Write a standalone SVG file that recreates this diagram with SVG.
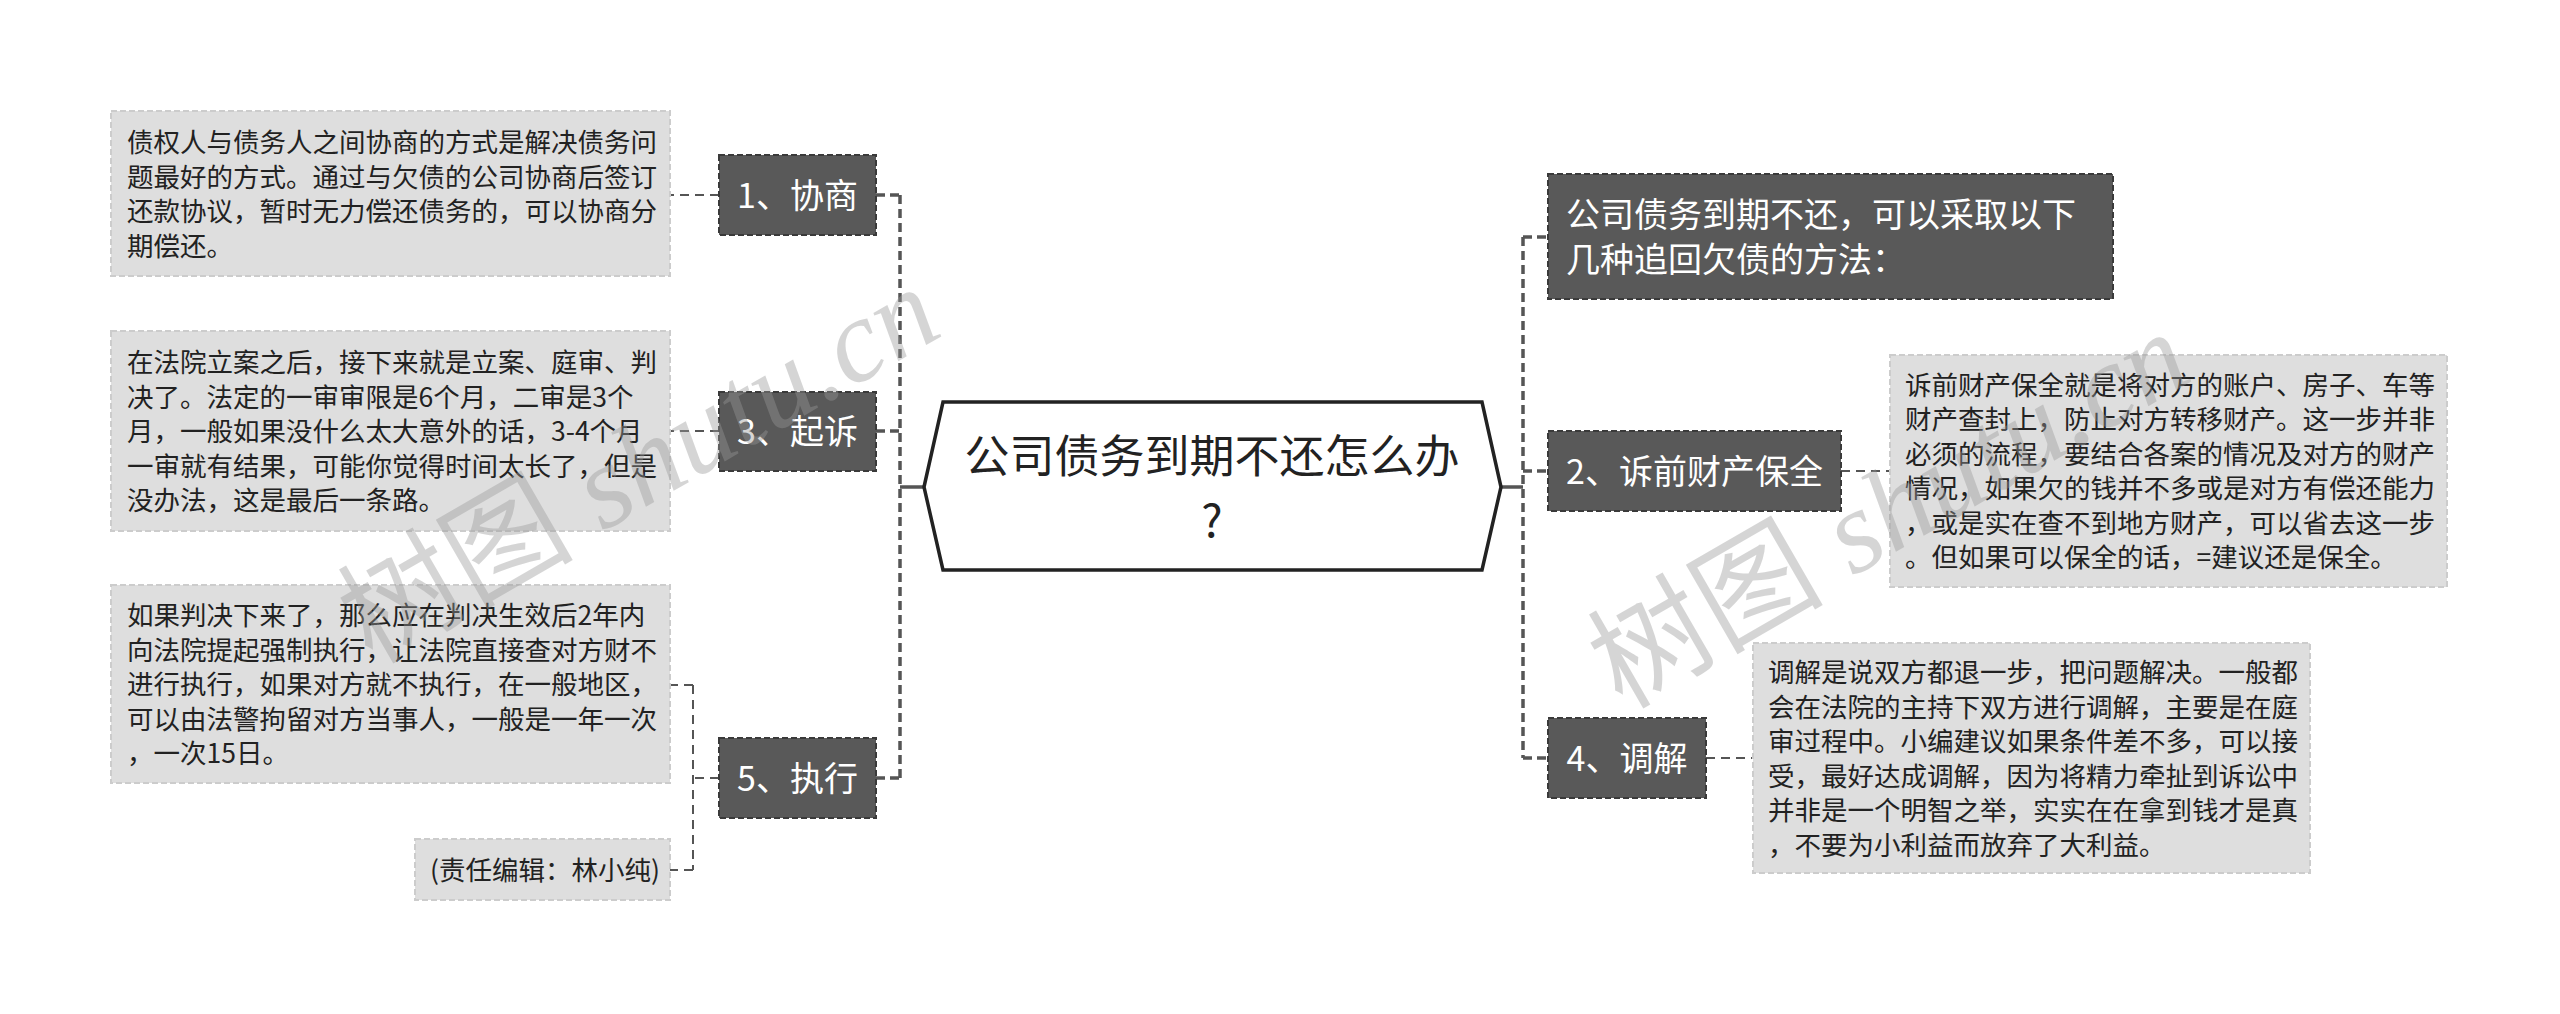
<svg xmlns="http://www.w3.org/2000/svg" width="2560" height="1014" viewBox="0 0 2560 1014">
<style>
.bg{fill:#ffffff}
.node rect{fill:#595959;stroke:#3a3a3a;stroke-width:2;stroke-dasharray:6 3}
.node text{fill:#ffffff;font-family:"Noto Sans CJK SC","Noto Sans",sans-serif;font-size:34px}
.desc rect{fill:#dedede;stroke:#cccccc;stroke-width:2;stroke-dasharray:6 3}
.desc text{fill:#222222;font-family:"Noto Sans CJK SC","Noto Sans",sans-serif;font-size:26.5px}
.root polygon{fill:#ffffff;stroke:#222222;stroke-width:3.5}
.root text{fill:#222222;font-family:"Noto Sans CJK SC","Noto Sans",sans-serif;font-size:45px}
.main{fill:none;stroke:#555555;stroke-width:3.5;stroke-dasharray:9 5}
.thin{fill:none;stroke:#555555;stroke-width:2;stroke-dasharray:9 6}
.solid{fill:none;stroke:#555555;stroke-width:3.5}
.wm{fill:#999999;opacity:0.4;font-size:118px}
</style>
<rect class="bg" x="0" y="0" width="2560" height="1014"/>

<g id="connectors">
  <path class="main" d="M900,195 V778"/>
  <path class="main" d="M876,195 H900 M876,431 H900 M876,778 H900"/>
  <path class="solid" d="M900,487 H924"/>
  <path class="thin" d="M719,195 H670"/>
  <path class="thin" d="M719,431 H670"/>
  <path class="thin" d="M719,778 H693 M693,685 V870 M693,685 H670 M693,870 H670"/>
  <path class="main" d="M1523,237 V758"/>
  <path class="main" d="M1523,237 H1548 M1523,471 H1548 M1523,758 H1548"/>
  <path class="solid" d="M1501,487 H1523"/>
  <path class="thin" d="M1841,471 H1890"/>
  <path class="thin" d="M1706,758 H1753"/>
</g>

<g id="root" class="root">
  <polygon points="924,487 943,402 1482,402 1501,487 1482,570 943,570"/>
  <text x="1212" y="473" text-anchor="middle">公司债务到期不还怎么办</text>
  <text x="1212" y="537" text-anchor="middle">?</text>
</g>

<g id="n1" class="node">
  <rect x="719" y="155" width="157" height="80"/>
  <text x="797.5" y="208" text-anchor="middle">1、协商</text>
</g>
<g id="n3" class="node">
  <rect x="719" y="392" width="157" height="79"/>
  <text x="797.5" y="444" text-anchor="middle">3、起诉</text>
</g>
<g id="n5" class="node">
  <rect x="719" y="738" width="157" height="80"/>
  <text x="797.5" y="791" text-anchor="middle">5、执行</text>
</g>
<g id="ntop" class="node">
  <rect x="1548" y="174" width="565" height="125"/>
  <text x="1566" y="227">公司债务到期不还，可以采取以下</text>
  <text x="1566" y="272">几种追回欠债的方法：</text>
</g>
<g id="n2" class="node">
  <rect x="1548" y="431" width="293" height="80"/>
  <text x="1694.5" y="484" text-anchor="middle">2、诉前财产保全</text>
</g>
<g id="n4" class="node">
  <rect x="1548" y="718" width="158" height="80"/>
  <text x="1627" y="771" text-anchor="middle">4、调解</text>
</g>

<g id="d1" class="desc">
  <rect x="111" y="111" width="559" height="165"/>
  <text x="127" y="152">债权人与债务人之间协商的方式是解决债务问</text>
  <text x="127" y="186.5">题最好的方式。通过与欠债的公司协商后签订</text>
  <text x="127" y="221">还款协议，暂时无力偿还债务的，可以协商分</text>
  <text x="127" y="255.5">期偿还。</text>
</g>
<g id="d3" class="desc">
  <rect x="111" y="331" width="559" height="200"/>
  <text x="127" y="372">在法院立案之后，接下来就是立案、庭审、判</text>
  <text x="127" y="406.5">决了。法定的一审审限是6个月，二审是3个</text>
  <text x="127" y="441">月，一般如果没什么太大意外的话，3-4个月</text>
  <text x="127" y="475.5">一审就有结果，可能你觉得时间太长了，但是</text>
  <text x="127" y="510">没办法，这是最后一条路。</text>
</g>
<g id="d5" class="desc">
  <rect x="111" y="585" width="559" height="198"/>
  <text x="127" y="625">如果判决下来了，那么应在判决生效后2年内</text>
  <text x="127" y="659.5">向法院提起强制执行，让法院直接查对方财不</text>
  <text x="127" y="694">进行执行，如果对方就不执行，在一般地区，</text>
  <text x="127" y="728.5">可以由法警拘留对方当事人，一般是一年一次</text>
  <text x="127" y="763">，一次15日。</text>
</g>
<g id="d5b" class="desc">
  <rect x="415" y="839" width="255" height="61"/>
  <text x="430" y="880">(责任编辑：林小纯)</text>
</g>
<g id="d2" class="desc">
  <rect x="1890" y="355" width="557" height="232"/>
  <text x="1905" y="394.5">诉前财产保全就是将对方的账户、房子、车等</text>
  <text x="1905" y="429">财产查封上，防止对方转移财产。这一步并非</text>
  <text x="1905" y="463.5">必须的流程，要结合各案的情况及对方的财产</text>
  <text x="1905" y="498">情况，如果欠的钱并不多或是对方有偿还能力</text>
  <text x="1905" y="532.5">，或是实在查不到地方财产，可以省去这一步</text>
  <text x="1905" y="567">。但如果可以保全的话，=建议还是保全。</text>
</g>
<g id="d4" class="desc">
  <rect x="1753" y="643" width="557" height="230"/>
  <text x="1768" y="682">调解是说双方都退一步，把问题解决。一般都</text>
  <text x="1768" y="716.5">会在法院的主持下双方进行调解，主要是在庭</text>
  <text x="1768" y="751">审过程中。小编建议如果条件差不多，可以接</text>
  <text x="1768" y="785.5">受，最好达成调解，因为将精力牵扯到诉讼中</text>
  <text x="1768" y="820">并非是一个明智之举，实实在在拿到钱才是真</text>
  <text x="1768" y="854.5">，不要为小利益而放弃了大利益。</text>
</g>

<g id="watermark">
  <text class="wm" transform="translate(372,665) rotate(-30)"><tspan font-family="'Noto Sans CJK SC',sans-serif">树图</tspan><tspan font-family="'Liberation Serif',serif" font-style="italic" dx="30">shutu.cn</tspan></text>
  <text class="wm" transform="translate(1622,710) rotate(-30)"><tspan font-family="'Noto Sans CJK SC',sans-serif">树图</tspan><tspan font-family="'Liberation Serif',serif" font-style="italic" dx="30">shutu.cn</tspan></text>
</g>
</svg>
